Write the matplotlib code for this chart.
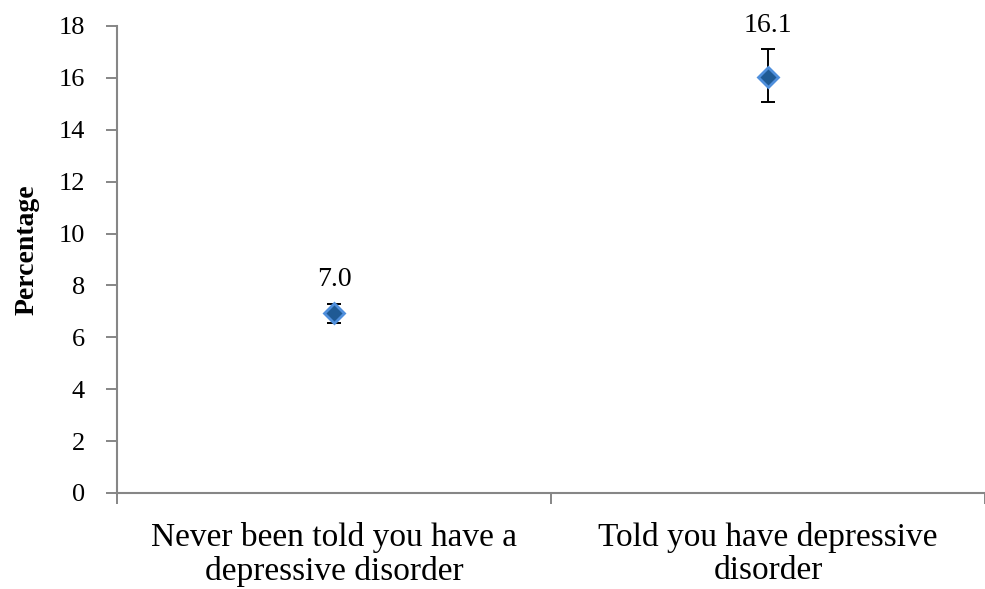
import matplotlib.pyplot as plt

# data
categories = ['Never been told you have a\ndepressive disorder',
              'Told you have depressive\ndisorder']
values = [6.95, 16.05]
err_low = [0.4, 1.0]
err_high = [0.35, 1.05]
value_labels = ['7.0', '16.1']
y_ticks = [0, 2, 4, 6, 8, 10, 12, 14, 16, 18]

plt.rcParams['font.family'] = ['Liberation Serif', 'DejaVu Serif']

fig = plt.figure(figsize=(9.85, 5.89), dpi=100)
ax = fig.add_axes([0.1188, 0.163, 0.8812, 0.793])

x = [0.5, 1.5]
ax.errorbar(x, values, yerr=[err_low, err_high], fmt='none',
            ecolor='black', elinewidth=1.4, capsize=4.7, capthick=1.4, zorder=2)
ax.plot(x, values, linestyle='none', marker='D', markersize=10,
        markerfacecolor='#1f5a94', markeredgecolor='#4f8fdc',
        markeredgewidth=2, zorder=3)

for xi, v, hi, lab in zip(x, values, err_high, value_labels):
    ax.annotate(lab, (xi, v + hi), xytext=(0, 8), textcoords='offset points',
                ha='center', va='bottom', fontsize=20)

ax.set_xlim(0, 2)
ax.set_ylim(0, 18)
ax.set_yticks(y_ticks)
ax.set_yticklabels([str(t) for t in y_ticks], fontsize=19)
ax.set_xticks([0, 1, 2])
ax.set_xticklabels([])
ax.set_xticks(x, minor=True)
ax.set_xticklabels(categories, minor=True, fontsize=24, linespacing=1.12)
ax.tick_params(axis='x', which='minor', length=0, pad=21)
ax.tick_params(axis='x', which='major', length=8, color='#868686', width=1.4)
ax.tick_params(axis='y', length=8, color='#868686', width=1.4, pad=15)

for s in ['top', 'right']:
    ax.spines[s].set_visible(False)
for s in ['left', 'bottom']:
    ax.spines[s].set_color('#868686')
    ax.spines[s].set_linewidth(1.5)

ax.set_ylabel('Percentage', fontsize=20, fontweight='bold')
ax.yaxis.set_label_coords(-0.089, 0.52)

fig.savefig('out.png', dpi=100)
